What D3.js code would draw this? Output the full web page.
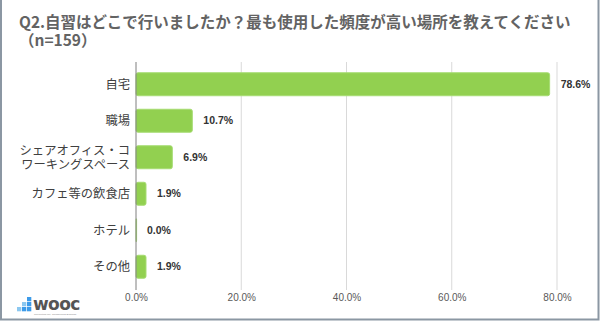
<!DOCTYPE html>
<html>
<head>
<meta charset="utf-8">
<script src="https://cdn.jsdelivr.net/npm/d3@7/dist/d3.min.js"></script>
<style>
  html, body { margin: 0; padding: 0; background: #fff; }
  svg { display: block; }
</style>
</head>
<body>
<svg id="chart" width="600" height="322"></svg>
<script>
// Survey: where respondents studied most often (n=159)
const titleLines = ["Q2.自習はどこで行いましたか？最も使用した頻度が高い場所を教えてください", "（n=159）"];
const categories = ["自宅", "職場", "シェアオフィス・コ\nワーキングスペース", "カフェ等の飲食店", "ホテル", "その他"];
const values = [78.6, 10.7, 6.9, 1.9, 0.0, 1.9];
const tickValues = [0, 20, 40, 60, 80];

const W = 600, H = 322;
const svg = d3.select("#chart");
const jp = "'Noto Sans CJK JP', 'Noto Sans', sans-serif";
const latin = "'Liberation Sans', Arial, sans-serif";

svg.append("rect").attr("width", W).attr("height", H).attr("fill", "#fff");

// Frame
svg.append("rect")
  .attr("x", 1).attr("y", -2).attr("width", W - 2.5).attr("height", H - 0.5)
  .attr("fill", "none").attr("stroke", "#8b97a3").attr("stroke-width", 2);

// Title (two lines)
svg.append("g").selectAll("text").data(titleLines).join("text")
  .attr("font-family", jp).attr("font-size", 15.5).attr("font-weight", "bold")
  .attr("fill", "#636363")
  .attr("x", 19).attr("y", (d, i) => 28 + i * 17.5)
  .text(d => d);

// Scales
const x = d3.scaleLinear().domain([0, 80]).range([136, 557]);
const y = d3.scaleBand().domain(categories).range([66, 285])
  .paddingInner(0.37).paddingOuter(0.185);

const plotTop = 62, plotBottom = 290;

// Gridlines
svg.append("g").selectAll("line").data(tickValues.slice(1)).join("line")
  .attr("x1", d => x(d)).attr("x2", d => x(d))
  .attr("y1", plotTop).attr("y2", plotBottom)
  .attr("stroke", "#d9d9d9").attr("stroke-width", 1);

// Bottom axis tick labels
const xAxis = d3.axisBottom(x).tickValues(tickValues)
  .tickFormat(d => d3.format(".1f")(d) + "%").tickSize(0).tickPadding(0);
const gx = svg.append("g").attr("transform", `translate(0,${plotBottom + 4})`).call(xAxis);
gx.select(".domain").remove();
gx.selectAll("text").attr("font-family", latin).attr("font-size", 10)
  .attr("fill", "#595959").attr("dy", "0.71em");

// Bars
const data = categories.map((c, i) => ({ c, v: values[i] }));
svg.append("g").selectAll("rect").data(data).join("rect")
  .attr("x", x(0))
  .attr("y", d => y(d.c))
  .attr("width", d => Math.max(x(d.v) - x(0), 0.6))
  .attr("height", y.bandwidth())
  .attr("rx", 2).attr("ry", 2)
  .attr("fill", "#92d050")
  .attr("stroke", "#a6dc72").attr("stroke-width", 1);

// Vertical axis line
svg.append("line")
  .attr("x1", x(0)).attr("x2", x(0))
  .attr("y1", plotTop).attr("y2", plotBottom)
  .attr("stroke", "#7f7f7f").attr("stroke-width", 1);

// Value labels
svg.append("g").selectAll("text").data(data).join("text")
  .attr("x", d => x(d.v) + 11)
  .attr("y", d => y(d.c) + y.bandwidth() / 2)
  .attr("dy", "0.35em")
  .attr("font-family", latin).attr("font-size", 10.5).attr("font-weight", "bold")
  .attr("fill", "#333")
  .text(d => d3.format(".1f")(d.v) + "%");

// Category labels
const catG = svg.append("g");
data.forEach(d => {
  const lines = d.c.split("\n");
  const cy = y(d.c) + y.bandwidth() / 2;
  const lh = 14;
  const t = catG.append("text")
    .attr("text-anchor", "end")
    .attr("font-family", jp).attr("font-size", 12.3)
    .attr("fill", "#404040");
  lines.forEach((ln, i) => {
    t.append("tspan")
      .attr("x", 130)
      .attr("y", cy + (i - (lines.length - 1) / 2) * lh)
      .attr("dy", "0.35em")
      .text(ln);
  });
});

// Logo mark
const logo = svg.append("g").attr("transform", "translate(17,297)");
const squares = [
  [0, 10, "#8cc8f0"], [5, 10, "#3d9be9"], [10, 10, "#3d9be9"],
  [5, 5, "#8cc8f0"], [10, 5, "#3d9be9"],
  [10, 0, "#3d9be9"]
];
logo.selectAll("rect").data(squares).join("rect")
  .attr("x", d => d[0]).attr("y", d => d[1])
  .attr("width", 4.3).attr("height", 4.3).attr("fill", d => d[2]);
logo.append("text").attr("x", 16).attr("y", 12.5)
  .attr("font-family", "'DejaVu Sans', sans-serif").attr("font-size", 17).attr("font-weight", "bold")
  .attr("letter-spacing", -0.6).attr("fill", "#555").text("wooc");
logo.append("text").attr("x", 17).attr("y", 17.5)
  .attr("font-family", latin).attr("font-size", 2.4).attr("fill", "#888")
  .text("Connecting Life, Transforming Business");
</script>
</body>
</html>
